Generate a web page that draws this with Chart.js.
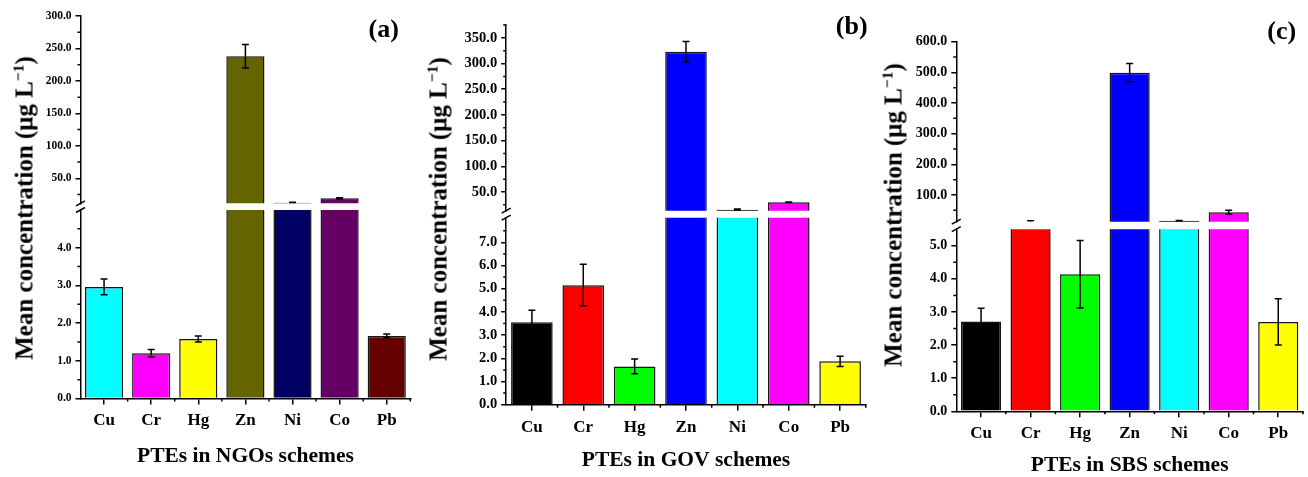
<!DOCTYPE html>
<html>
<head>
<meta charset="utf-8">
<script src="https://cdn.jsdelivr.net/npm/chart.js@4.4.1/dist/chart.umd.min.js"></script>
<style>
html, body { margin:0; padding:0; background:#fff; width:1308px; height:477px; overflow:hidden; position:relative; font-family:'Liberation Serif','Times New Roman',serif; }
canvas { position:absolute; }
.ytitle { position:absolute; white-space:nowrap; font-weight:bold; font-size:25px; line-height:1; color:#000; transform:translate(-50%,-50%) rotate(-90deg); }
.ytitle sup { font-size:0.62em; vertical-align:0.55em; line-height:0; }
.plabel { position:absolute; font-weight:bold; font-size:26px; line-height:1; color:#000; transform:translate(-50%,-50%); }
</style>
</head>
<body>
<script>
// ---------- DATA ----------
const categories = ['Cu', 'Cr', 'Hg', 'Zn', 'Ni', 'Co', 'Pb'];

// (a) NGOs schemes
const ngoMeans  = [2.96, 1.20, 1.58, 238, 12.5, 19.2, 1.66];
const ngoErrors = [0.21, 0.10, 0.08, 18, 0.5, 1.0, 0.05];
// (b) GOV schemes
const govMeans  = [3.55, 5.15, 1.65, 323, 15.5, 30, 1.87];
const govErrors = [0.52, 0.90, 0.32, 20, 1.2, 0.6, 0.22];
// (c) SBS schemes
const sbsMeans  = [2.71, 11.3, 4.14, 499, 16, 43.6, 2.70];
const sbsErrors = [0.40, 5.0, 1.02, 30, 0.6, 6.5, 0.70];

const ngoColors = ['#00FFFF', '#FF00FF', '#FFFF00', '#646400', '#000064', '#640064', '#640000'];
const govColors = ['#000000', '#FF0000', '#00FF00', '#0000FF', '#00FFFF', '#FF00FF', '#FFFF00'];
const sbsColors = ['#000000', '#FF0000', '#00FF00', '#0000FF', '#00FFFF', '#FF00FF', '#FFFF00'];

// tick labels (major) and minor tick positions
const ngoUpperTicks = [50, 100, 150, 200, 250, 300];
const ngoUpperMinor = [25, 75, 125, 175, 225, 275];
const ngoLowerTicks = [0, 1, 2, 3, 4];
const ngoLowerMinor = [0.5, 1.5, 2.5, 3.5, 4.5];
const govUpperTicks = [50, 100, 150, 200, 250, 300, 350];
const govUpperMinor = [25, 75, 125, 175, 225, 275, 325, 375];
const govLowerTicks = [0, 1, 2, 3, 4, 5, 6, 7];
const govLowerMinor = [0.5, 1.5, 2.5, 3.5, 4.5, 5.5, 6.5, 7.5];
const sbsUpperTicks = [100, 200, 300, 400, 500, 600];
const sbsUpperMinor = [50, 150, 250, 350, 450, 550];
const sbsLowerTicks = [0, 1, 2, 3, 4, 5];
const sbsLowerMinor = [0.5, 1.5, 2.5, 3.5, 4.5];

// broken axis ranges
const ngoUpperRange = [11.5, 300];
const ngoLowerRange = [0, 5];
const govUpperRange = [13.6, 375];
const govLowerRange = [0, 8.06];
const sbsUpperRange = [13, 600];
const sbsLowerRange = [0, 5.5];

const yTitleHTML = 'Mean concentration (μg L<sup>−1</sup>)';

// ---------- LAYOUT ----------
const FONT = "'Liberation Serif', 'Times New Roman', serif";
const panels = [
  { label: '(a)', xTitle: 'PTEs in NGOs schemes', means: ngoMeans, errors: ngoErrors, colors: ngoColors,
    upperTicks: ngoUpperTicks, upperMinor: ngoUpperMinor, lowerTicks: ngoLowerTicks, lowerMinor: ngoLowerMinor,
    upperRange: ngoUpperRange, lowerRange: ngoLowerRange,
    geo: { left: 80.5, right: 410.3, upperTop: 16, upperBottom: 203.3, lowerTop: 210, lowerBottom: 398.5,
           tickFont: 11.5, xh: 70.4, xPad: 6, yTitle: [23.5, 208], pl: [383.7, 29] } },
  { label: '(b)', xTitle: 'PTEs in GOV schemes', means: govMeans, errors: govErrors, colors: govColors,
    upperTicks: govUpperTicks, upperMinor: govUpperMinor, lowerTicks: govLowerTicks, lowerMinor: govLowerMinor,
    upperRange: govUpperRange, lowerRange: govLowerRange,
    geo: { left: 506.2, right: 865.8, upperTop: 25, upperBottom: 210.7, lowerTop: 217.7, lowerBottom: 404.7,
           tickFont: 14.5, xh: 68.7, xPad: 6.5, yTitle: [437.6, 209], pl: [851.7, 26] } },
  { label: '(c)', xTitle: 'PTEs in SBS schemes', means: sbsMeans, errors: sbsErrors, colors: sbsColors,
    upperTicks: sbsUpperTicks, upperMinor: sbsUpperMinor, lowerTicks: sbsLowerTicks, lowerMinor: sbsLowerMinor,
    upperRange: sbsUpperRange, lowerRange: sbsLowerRange,
    geo: { left: 956.3, right: 1303, upperTop: 41.7, upperBottom: 221.7, lowerTop: 229.2, lowerBottom: 411.3,
           tickFont: 14, xh: 67.1, xPad: 6.5, yTitle: [893.3, 215], pl: [1281.7, 31] } }
];

// ---------- PLUGIN: error bars, minor ticks, axis break ----------
const decor = {
  id: 'decor',
  afterDatasetsDraw(chart, args, o) {
    const { ctx, chartArea: ca } = chart;
    const xs = chart.scales.x, ys = chart.scales.y;
    ctx.save();
    ctx.beginPath();
    ctx.rect(ca.left, ca.top, ca.right - ca.left, ca.bottom - ca.top);
    ctx.clip();
    ctx.strokeStyle = '#000';
    ctx.lineWidth = 1.5;
    o.means.forEach((m, i) => {
      const e = o.errors[i];
      const px = xs.getPixelForValue(i);
      const yt = ys.getPixelForValue(m + e);
      const yb = ys.getPixelForValue(m - e);
      ctx.beginPath();
      ctx.moveTo(px, yt); ctx.lineTo(px, yb);
      ctx.moveTo(px - 3.5, yt); ctx.lineTo(px + 3.5, yt);
      ctx.moveTo(px - 3.5, yb); ctx.lineTo(px + 3.5, yb);
      ctx.stroke();
    });
    ctx.restore();
  },
  afterDraw(chart, args, o) {
    const { ctx, chartArea: ca } = chart;
    const xs = chart.scales.x, ys = chart.scales.y;
    ctx.save();
    ctx.strokeStyle = '#000';
    ctx.lineWidth = 1.5;
    ctx.beginPath();
    o.minor.forEach(v => {
      if (v < ys.min || v > ys.max) return;
      const py = ys.getPixelForValue(v);
      ctx.moveTo(ca.left - 3, py); ctx.lineTo(ca.left, py);
    });
    if (o.lower) {
      const step = xs.getPixelForValue(1) - xs.getPixelForValue(0);
      for (let i = 1; i <= categories.length; i++) {
        const px = xs.getPixelForValue(0) + (i - 0.5) * step;
        ctx.moveTo(px, ca.bottom); ctx.lineTo(px, ca.bottom + 3);
      }
      [ca.top - o.gap, ca.top].forEach(y => {
        ctx.moveTo(ca.left - 4.5, y + 2.5); ctx.lineTo(ca.left + 4.5, y - 2.5);
      });
    }
    ctx.stroke();
    ctx.restore();
  }
};

function build(p, isLower) {
  const g = p.geo;
  const top = isLower ? g.lowerTop : g.upperTop;
  const bottom = isLower ? g.lowerBottom : g.upperBottom;
  const YW = 60, PT = 16, PR = 5;
  const PB = isLower ? 2 : 16;
  const XH = isLower ? g.xh : 0;
  const cl = Math.floor(g.left - YW - 1);
  const ct = Math.floor(top - PT);
  const cw = Math.ceil(g.right + PR) - cl;
  const ch = Math.ceil(bottom + XH + PB) - ct;
  const canvas = document.createElement('canvas');
  canvas.width = cw; canvas.height = ch;
  canvas.style.left = cl + 'px'; canvas.style.top = ct + 'px';
  canvas.style.width = cw + 'px'; canvas.style.height = ch + 'px';
  document.body.appendChild(canvas);
  const padding = { left: g.left - YW - cl, top: top - ct, right: cl + cw - g.right, bottom: ct + ch - bottom - XH };
  const range = isLower ? p.lowerRange : p.upperRange;
  const majors = isLower ? p.lowerTicks : p.upperTicks;
  const minors = isLower ? p.lowerMinor : p.upperMinor;

  new Chart(canvas, {
    type: 'bar',
    data: {
      labels: categories,
      datasets: [{
        data: p.means,
        backgroundColor: p.colors,
        borderColor: '#151515',
        borderWidth: 1.5,
        barPercentage: 0.81,
        categoryPercentage: 1,
        clip: 0
      }]
    },
    options: {
      responsive: false,
      animation: false,
      events: [],
      layout: { padding },
      plugins: {
        legend: { display: false },
        tooltip: { enabled: false },
        decor: { means: p.means, errors: p.errors, minor: minors, lower: isLower, gap: top - g.upperBottom }
      },
      scales: {
        x: {
          display: isLower,
          offset: true,
          grid: { display: true, drawOnChartArea: false, drawTicks: true, tickLength: 6, color: '#000', lineWidth: 1.5, offset: false },
          border: { display: true, color: '#000', width: 1.5 },
          ticks: { color: '#000', font: { family: FONT, weight: 'bold', size: 17 }, padding: g.xPad, autoSkip: false, maxRotation: 0 },
          title: { display: true, text: p.xTitle, color: '#000', font: { family: FONT, weight: 'bold', size: 21.5 }, padding: { top: 0, bottom: 0 } },
          afterFit: s => { s.height = XH; }
        },
        y: {
          type: 'linear',
          min: range[0], max: range[1],
          grid: { drawOnChartArea: false, drawTicks: true, tickLength: 5, color: '#000', lineWidth: 1.5 },
          border: { display: true, color: '#000', width: 1.5 },
          ticks: { color: '#000', font: { family: FONT, weight: 'bold', size: g.tickFont }, padding: 4,
                   callback: v => Number(v).toFixed(1) },
          afterBuildTicks: s => { s.ticks = majors.map(v => ({ value: v })); },
          afterFit: s => { s.width = YW; }
        }
      }
    },
    plugins: [decor]
  });
}

panels.forEach(p => {
  build(p, false);
  build(p, true);
  const t = document.createElement('div');
  t.className = 'ytitle';
  t.innerHTML = yTitleHTML;
  t.style.left = p.geo.yTitle[0] + 'px';
  t.style.top = p.geo.yTitle[1] + 'px';
  document.body.appendChild(t);
  const l = document.createElement('div');
  l.className = 'plabel';
  l.textContent = p.label;
  l.style.left = p.geo.pl[0] + 'px';
  l.style.top = p.geo.pl[1] + 'px';
  document.body.appendChild(l);
});
</script>
</body>
</html>
